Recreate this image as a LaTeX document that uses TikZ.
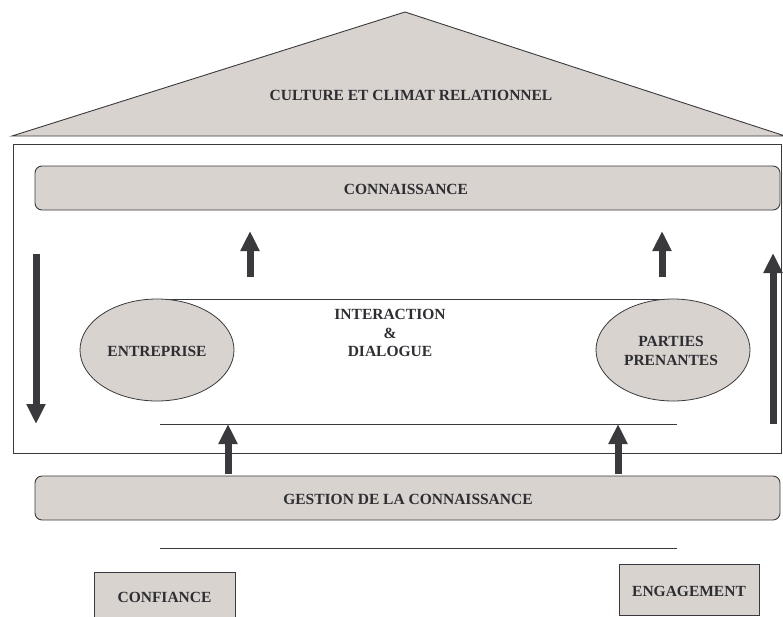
\documentclass[tikz,border=0pt]{standalone}
\usepackage{fontspec}
\setmainfont{Liberation Serif}
\usetikzlibrary{arrows.meta,shapes.geometric}
\definecolor{boxfill}{RGB}{217,211,207}
\definecolor{edge}{RGB}{58,58,62}
\definecolor{txt}{RGB}{45,45,50}
\begin{document}
\begin{tikzpicture}[x=1pt,y=-1pt,
  lbl/.style={font=\fontsize{15.5}{18.5}\selectfont\bfseries, text=txt, align=center, inner sep=0pt},
  panel/.style={draw=edge, line width=0.9pt, fill=boxfill, rounded corners=7pt},
  plainbox/.style={draw=edge, line width=0.9pt, fill=boxfill},
  oval/.style={draw=edge, line width=0.8pt, fill=boxfill, ellipse, minimum width=154pt, minimum height=102pt, inner sep=0pt},
  bigarrow/.style={draw=edge, line width=7pt, -{Triangle[width=18pt,length=20pt]}},
  rule/.style={draw=edge, line width=0.9pt}]
\useasboundingbox (0,0) rectangle (783,616);
% roof
\draw[draw=edge, line width=0.9pt, fill=boxfill] (12,136) -- (405,12) -- (785,136) -- cycle;
\node[lbl] (culture) at (411,95) {CULTURE ET CLIMAT RELATIONNEL};
% outer frame
\draw[draw=edge, line width=1pt] (13.5,144) rectangle (781,453);
% connaissance
\draw[panel] (35,166) rectangle (780,210);
\node[lbl] (conn) at (406,189) {CONNAISSANCE};
% gestion
\draw[panel] (35,476) rectangle (780,520);
\node[lbl] (gest) at (408,499) {GESTION DE LA CONNAISSANCE};
% interaction
\coordinate (tl) at (157,299);
\coordinate (tr) at (673,299);
\draw[rule] (tl) -- (tr);
\node[oval] (entr) at (157,350) {};
\node[oval] (pp) at (673,350) {};
\node[lbl] (entrt) at (157,351) {ENTREPRISE};
\node[lbl] (ppt) at (671,351) {PARTIES\\PRENANTES};
\node[lbl] (inter) at (390,333) {INTERACTION\\\&\\DIALOGUE};
% lines
\coordinate (bl1) at (160,424);
\coordinate (br1) at (677,424);
\draw[rule] (bl1) -- (br1);
\coordinate (bl2) at (160,548);
\coordinate (br2) at (677,548);
\draw[rule] (bl2) -- (br2);
% arrows
\coordinate (a1s) at (250,277); \coordinate (a1e) at (250,231);
\coordinate (a2s) at (662,277); \coordinate (a2e) at (662,231);
\coordinate (a3s) at (228,474); \coordinate (a3e) at (228,424);
\coordinate (a4s) at (618,474); \coordinate (a4e) at (618,424);
\coordinate (a5s) at (36,254);  \coordinate (a5e) at (36,424);
\coordinate (a6s) at (773,424); \coordinate (a6e) at (773,253);
\foreach \s/\e in {a1s/a1e,a2s/a2e,a3s/a3e,a4s/a4e,a5s/a5e,a6s/a6e}
  \draw[bigarrow] (\s) -- (\e);
% bottom boxes
\draw[plainbox] (94,572) rectangle (235,625);
\node[lbl] (conf) at (164.5,597) {CONFIANCE};
\draw[plainbox] (619,564) rectangle (759,615);
\node[lbl] (eng) at (689,591) {ENGAGEMENT};
\end{tikzpicture}
\end{document}
